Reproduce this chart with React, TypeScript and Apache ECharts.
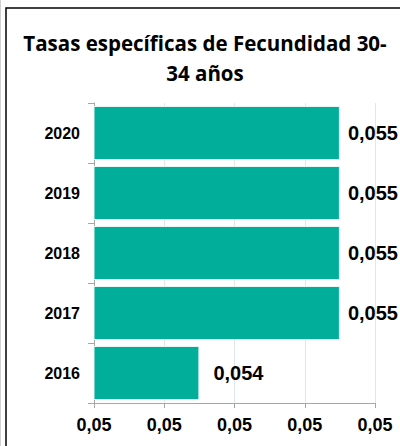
import React, { useEffect, useRef } from "react";
import * as echarts from "echarts";

const titleText = "Tasas específicas de Fecundidad 30-\n34 años";
const categories = ["2016", "2017", "2018", "2019", "2020"];
const values = [0.05425, 0.05525, 0.05525, 0.05525, 0.05525];
const valueLabels = ["0,054", "0,055", "0,055", "0,055", "0,055"];
const tickLabels = ["0,05", "0,05", "0,05", "0,05", "0,05"];

const BAR = "#00AE9A";
const FONT = "Liberation Sans, Arial, sans-serif";

export default function App() {
  const ref = useRef<HTMLDivElement>(null);
  useEffect(() => {
    if (!ref.current) return;
    const chart = echarts.init(ref.current, undefined, { renderer: "svg" });
    chart.setOption({
      animation: false,
      backgroundColor: "#ffffff",
      title: {
        text: titleText,
        left: 205,
        textAlign: "center",
        top: 28,
        padding: 0,
        textStyle: {
          fontFamily: "Open Sans, sans-serif",
          fontWeight: "bold",
          fontSize: 20.5,
          lineHeight: 30,
          color: "#000",
        },
      },
      graphic: [
        {
          type: "rect",
          shape: { x: 6, y: 8, width: 500, height: 500 },
          style: { fill: "none", stroke: "#000", lineWidth: 1.5 },
        },
        {
          type: "line",
          shape: { x1: 0.5, y1: 0, x2: 0.5, y2: 446 },
          style: { stroke: "#d0d0d0", lineWidth: 1 },
        },
      ],
      grid: { left: 94, right: 25, top: 103, bottom: 43, containLabel: false },
      xAxis: {
        type: "value",
        min: 0.0535,
        max: 0.0555,
        interval: 0.0005,
        axisLine: { show: true, lineStyle: { color: "#a6a6a6", width: 1 } },
        axisTick: { show: true, length: 5, lineStyle: { color: "#a6a6a6" } },
        splitLine: { show: true, lineStyle: { color: "#dde8ee", width: 1 } },
        axisLabel: {
          margin: 13,
          fontFamily: FONT,
          fontWeight: "bold",
          fontSize: 18,
          color: "#000",
          formatter: (_v: number, i: number) => tickLabels[i] ?? "",
        },
      },
      yAxis: {
        type: "category",
        data: categories,
        axisLine: { show: true, lineStyle: { color: "#a6a6a6", width: 1 } },
        axisTick: { show: true, length: 6, lineStyle: { color: "#a6a6a6" } },
        splitLine: { show: false },
        axisLabel: {
          margin: 14,
          fontFamily: FONT,
          fontWeight: "bold",
          fontSize: 16,
          color: "#000",
        },
      },
      series: [
        {
          type: "bar",
          barCategoryGap: "10%",
          data: values.map((v, i) => ({
            value: v,
            label: { distance: i === 0 ? 14 : 8 },
          })),
          itemStyle: { color: BAR, borderColor: "#e8f6f4", borderWidth: 1 },
          label: {
            show: true,
            position: "right",
            fontFamily: FONT,
            fontWeight: "bold",
            fontSize: 20,
            color: "#000",
            formatter: (p: any) => valueLabels[p.dataIndex],
          },
        },
      ],
    });
    return () => chart.dispose();
  }, []);
  return (
    <div
      ref={ref}
      style={{ position: "fixed", left: 0, top: 0, width: 400, height: 446 }}
    />
  );
}
